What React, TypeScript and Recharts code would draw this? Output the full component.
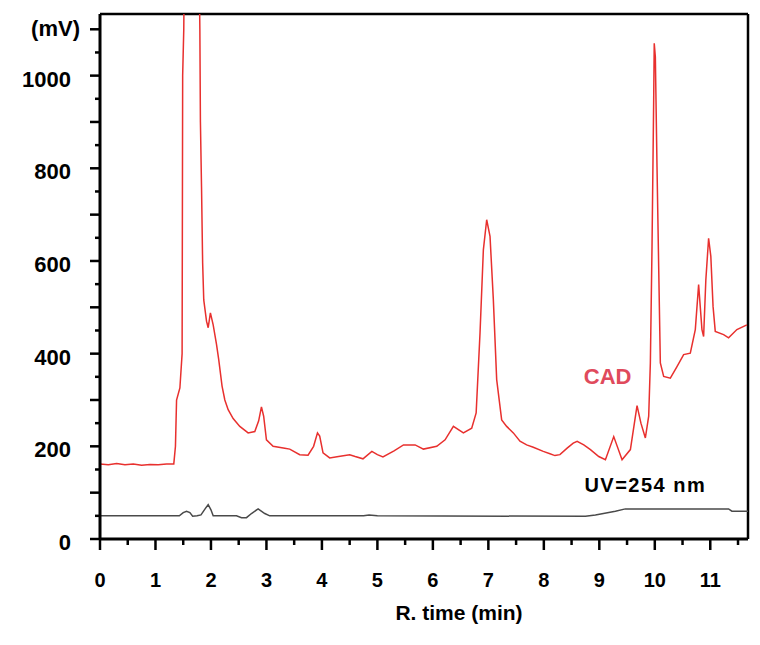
import React from 'react';
import { LineChart, Line, XAxis, YAxis, ReferenceLine, ReferenceDot, Label } from 'recharts';

// CAD trace (red), retention time in min / signal in mV
const cadTime = [
  0, 0.15, 0.3, 0.45, 0.6, 0.75, 0.9, 1.05, 1.2, 1.33, 1.36, 1.38, 1.44, 1.48, 1.49, 1.51, 1.53, 1.6, 1.7,
  1.78, 1.8, 1.81, 1.83, 1.85, 1.87, 1.92, 1.95, 1.99, 2.04, 2.1, 2.14, 2.2, 2.25, 2.31, 2.4, 2.52, 2.67,
  2.79, 2.86, 2.91, 2.95, 3.0, 3.12, 3.33, 3.42, 3.6, 3.75, 3.85, 3.92, 3.96, 4.02, 4.14, 4.3, 4.5, 4.6,
  4.74, 4.9, 5.0, 5.1, 5.3, 5.47, 5.68, 5.83, 6.07, 6.22, 6.37, 6.55, 6.7, 6.78, 6.85, 6.91, 6.97, 7.03,
  7.09, 7.15, 7.24, 7.33, 7.45, 7.57, 7.69, 7.81, 7.99, 8.11, 8.2, 8.29, 8.42, 8.53, 8.6, 8.72, 8.84, 8.99,
  9.11, 9.26, 9.41, 9.56, 9.68, 9.75, 9.83,
  9.89, 9.92, 9.95, 9.98, 9.99, 10.01, 10.04, 10.07, 10.1, 10.16, 10.28, 10.4, 10.52, 10.64, 10.73, 10.79,
  10.85, 10.88, 10.92, 10.97, 11.01, 11.05, 11.09, 11.24, 11.33, 11.48, 11.66,
];
const cadSignal = [
  162, 160, 163, 160, 162, 159, 161, 160, 162, 162, 200, 300, 326, 400, 1000, 1100, 1400, 1500, 1500,
  1300, 1100, 900, 760, 596, 516, 470, 456, 488, 462, 420, 387, 330, 300, 279, 260, 243, 229,
  232, 255, 285, 265, 214, 200, 196, 194, 182, 181, 200, 229, 222, 186, 175, 178, 182, 178,
  173, 189, 182, 177, 190, 203, 203, 194, 200, 214, 243, 229, 239, 272, 445, 624, 689, 653,
  516, 344, 257, 243, 229, 211, 203, 198, 189, 184, 180, 182, 196, 207, 211, 203, 193, 178,
  171, 221, 171, 193, 288, 250, 218,
  265, 380, 631, 948, 1070, 1040, 803, 588, 380, 351, 347, 372, 398, 401, 452, 549,
  452, 437, 559, 649, 610, 502, 448, 441, 434, 452, 462,
];

// UV 254 nm trace (grey)
const uvTime = [
  0, 1.43, 1.5, 1.56, 1.62, 1.67, 1.75, 1.82, 1.9, 1.95, 2.0, 2.04, 2.46, 2.55, 2.64, 2.73, 2.85, 2.97,
  3.06, 4.75, 4.85, 5.0, 8.75, 8.93, 9.29, 9.47, 11.33, 11.39, 11.68,
];
const uvSignal = [
  50, 50, 57, 60, 57, 49, 50, 52, 66, 74, 63, 50, 50, 46, 46, 55, 65, 55,
  50, 50, 52, 50, 49, 52, 60, 65, 65, 60, 60,
];

const xTicks = Array.from({ length: 24 }, (_, i) => i * 0.5);
const yTicks = Array.from({ length: 23 }, (_, i) => i * 50);
const X_MAX = 11.68;
const Y_MAX = 1133;

const cadData = cadTime.map((t, i) => ({ t, v: cadSignal[i] }));
const uvData = uvTime.map((t, i) => ({ t, v: uvSignal[i] }));

const FONT = '"Liberation Sans", Arial, sans-serif';

const XTick = (props: any) => {
  const { x, y, payload } = props;
  const major = Number.isInteger(payload.value);
  return (
    <g>
      <line x1={x} x2={x} y1={y} y2={y + (major ? 11 : 6)} stroke="#000" strokeWidth={2.5} />
      {major && (
        <text x={x} y={y + 48} textAnchor="middle" fontFamily={FONT} fontWeight="bold" fontSize={20} fill="#000">
          {payload.value}
        </text>
      )}
    </g>
  );
};

const YTick = (props: any) => {
  const { x, y, payload } = props;
  const v = payload.value;
  const major = v % 100 === 0;
  let label: string | null = null;
  if (v === 1100) label = '(mV)';
  else if (v % 200 === 0) label = String(v);
  return (
    <g>
      <line x1={x - (major ? 10 : 5)} x2={x} y1={y} y2={y} stroke="#000" strokeWidth={2.5} />
      {label && (
        <text
          x={v === 1100 ? x - 20 : x - 29}
          y={y + (v === 1100 ? 7 : 11)}
          textAnchor="end"
          fontFamily={FONT}
          fontWeight="bold"
          fontSize={22}
          fill="#000"
        >
          {label}
        </text>
      )}
    </g>
  );
};

export default function App() {
  return (
    <div style={{ position: 'absolute', left: 0, top: 0, width: 760, height: 645, background: '#fff' }}>
      <LineChart width={760} height={645} margin={{ top: 14, right: 12, left: 0, bottom: 0 }}>
        <XAxis
          dataKey="t"
          type="number"
          domain={[0, X_MAX]}
          ticks={xTicks}
          interval={0}
          allowDataOverflow
          height={106}
          tickSize={0}
          tickMargin={0}
          tickLine={false}
          axisLine={{ stroke: '#000', strokeWidth: 3 }}
          tick={<XTick />}
        >
          <Label
            value="R. time (min)"
            position="insideBottom"
            offset={25}
            dx={35}
            style={{ fontFamily: FONT, fontWeight: 'bold', fontSize: 21, fill: '#000' }}
          />
        </XAxis>
        <YAxis
          dataKey="v"
          type="number"
          domain={[0, Y_MAX]}
          ticks={yTicks}
          interval={0}
          allowDataOverflow
          width={100}
          tickSize={0}
          tickMargin={0}
          tickLine={false}
          axisLine={{ stroke: '#000', strokeWidth: 3 }}
          tick={<YTick />}
        />
        <ReferenceLine y={Y_MAX} stroke="#000" strokeWidth={2.5} />
        <ReferenceLine x={X_MAX} stroke="#000" strokeWidth={2.5} />
        <Line
          data={uvData}
          dataKey="v"
          type="linear"
          stroke="#4a4a4a"
          strokeWidth={1.5}
          dot={false}
          activeDot={false}
          isAnimationActive={false}
        />
        <Line
          data={cadData}
          dataKey="v"
          type="linear"
          stroke="#e8302e"
          strokeWidth={1.5}
          dot={false}
          activeDot={false}
          isAnimationActive={false}
        />
        <ReferenceDot
          x={9.15}
          y={352}
          r={1}
          fill="none"
          stroke="none"
          label={{ value: 'CAD', position: 'center', fill: '#e04a5c', fontSize: 22, fontWeight: 'bold', fontFamily: FONT }}
        />
        <ReferenceDot
          x={9.83}
          y={117}
          r={1}
          fill="none"
          stroke="none"
          label={{
            value: 'UV=254 nm',
            position: 'center',
            fill: '#000',
            fontSize: 20,
            fontWeight: 'bold',
            fontFamily: FONT,
            letterSpacing: 1.5,
          }}
        />
      </LineChart>
    </div>
  );
}
